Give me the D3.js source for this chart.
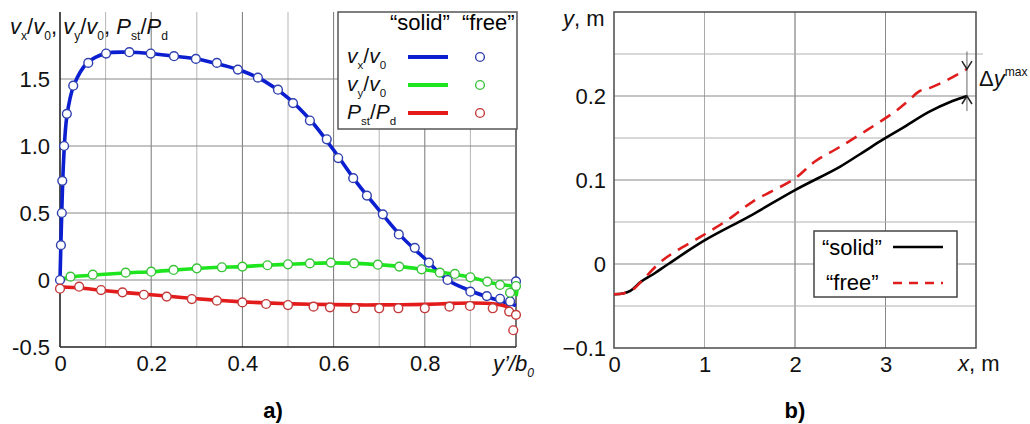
<!DOCTYPE html>
<html>
<head>
<meta charset="utf-8">
<script src="https://cdn.jsdelivr.net/npm/d3@7"></script>
<style>
  body { margin: 0; background: #fff; }
  svg { font-family: "Liberation Sans", Arial, sans-serif; }
</style>
</head>
<body>
<svg width="1030" height="424"></svg>
<script>
// ---------- a) data ----------
// "solid" lines
const vxSolidX = [0, 0.003, 0.008, 0.015, 0.03, 0.06, 0.1, 0.15, 0.2, 0.25, 0.3, 0.35, 0.4, 0.45, 0.5, 0.55, 0.6, 0.65, 0.7, 0.75, 0.8, 0.85, 0.9, 0.95, 1.0];
const vxSolid = [0, 0.4, 0.9, 1.22, 1.45, 1.62, 1.69, 1.70, 1.69, 1.67, 1.65, 1.61, 1.56, 1.48, 1.36, 1.19, 0.97, 0.73, 0.52, 0.32, 0.16, 0.0, -0.08, -0.14, -0.19];
const vySolidX = [0, 0.02, 0.07, 0.14, 0.2, 0.25, 0.3, 0.35, 0.4, 0.45, 0.5, 0.55, 0.6, 0.65, 0.7, 0.75, 0.8, 0.85, 0.9, 0.95, 1.0, 1.0];
const vySolid = [0, 0.02, 0.035, 0.052, 0.062, 0.074, 0.086, 0.095, 0.1, 0.11, 0.117, 0.124, 0.128, 0.124, 0.114, 0.1, 0.076, 0.05, 0.02, -0.025, -0.06, -0.12];
const psSolidX = [0, 0.05, 0.1, 0.15, 0.2, 0.25, 0.3, 0.35, 0.4, 0.45, 0.5, 0.55, 0.6, 0.65, 0.7, 0.75, 0.8, 0.85, 0.9, 0.95, 0.98, 1.0];
const psSolid = [-0.05, -0.062, -0.08, -0.096, -0.11, -0.125, -0.14, -0.152, -0.163, -0.171, -0.177, -0.181, -0.184, -0.186, -0.186, -0.185, -0.182, -0.176, -0.172, -0.178, -0.2, -0.27];

// "free" circles
const vxFreeX = [0, 0.002, 0.004, 0.005, 0.009, 0.015, 0.029, 0.062, 0.101, 0.152, 0.199, 0.25, 0.298, 0.344, 0.39, 0.434, 0.478, 0.511, 0.548, 0.585, 0.61, 0.643, 0.673, 0.708, 0.743, 0.778, 0.809, 0.85, 0.90, 0.936, 0.965, 0.987, 1.0];
const vxFree = [0, 0.26, 0.5, 0.74, 1.0, 1.24, 1.45, 1.62, 1.69, 1.70, 1.69, 1.67, 1.65, 1.62, 1.57, 1.51, 1.42, 1.32, 1.19, 1.05, 0.91, 0.76, 0.63, 0.49, 0.34, 0.24, 0.13, 0.0, -0.087, -0.12, -0.14, -0.16, -0.01];
const vyFreeX = [0.023, 0.072, 0.144, 0.2, 0.249, 0.30, 0.355, 0.40, 0.455, 0.50, 0.548, 0.594, 0.645, 0.697, 0.744, 0.793, 0.833, 0.866, 0.90, 0.937, 0.965, 0.987, 1.0];
const vyFree = [0.025, 0.04, 0.055, 0.062, 0.075, 0.087, 0.095, 0.10, 0.11, 0.117, 0.124, 0.13, 0.124, 0.114, 0.10, 0.08, 0.055, 0.045, 0.02, -0.012, -0.037, -0.095, -0.045];
const psFreeX = [0, 0.042, 0.09, 0.137, 0.184, 0.234, 0.289, 0.344, 0.40, 0.452, 0.50, 0.556, 0.592, 0.647, 0.70, 0.742, 0.80, 0.854, 0.899, 0.949, 0.985, 1.0, 0.994];
const psFree = [-0.065, -0.05, -0.075, -0.092, -0.11, -0.124, -0.142, -0.154, -0.167, -0.179, -0.187, -0.199, -0.204, -0.211, -0.211, -0.211, -0.211, -0.199, -0.194, -0.211, -0.236, -0.26, -0.375];

const aTicksX = [0, 0.2, 0.4, 0.6, 0.8];
const aTicksY = [-0.5, 0, 0.5, 1.0, 1.5];
const aTickLabelsY = ["-0.5", "0", "0.5", "1.0", "1.5"];

// ---------- b) data ----------
const solidX = [0, 0.1, 0.18, 0.3, 0.45, 0.6, 1.0, 1.5, 2.0, 2.5, 2.75, 2.97, 3.19, 3.48, 3.74, 3.9];
const solidY = [-0.036, -0.035, -0.032, -0.021, -0.011, 0.0, 0.028, 0.057, 0.088, 0.116, 0.133, 0.148, 0.162, 0.181, 0.194, 0.2];
const freeX = [0, 0.1, 0.2, 0.3, 0.5, 0.65, 0.95, 1.25, 1.53, 2.0, 2.22, 2.49, 2.79, 3.1, 3.25, 3.38, 3.5, 3.7, 3.9];
const freeY = [-0.036, -0.035, -0.031, -0.021, 0.001, 0.013, 0.032, 0.052, 0.074, 0.102, 0.122, 0.139, 0.159, 0.181, 0.194, 0.206, 0.21, 0.22, 0.232];

const bTicksX = [0, 1, 2, 3];
const bTicksY = [-0.1, 0, 0.1, 0.2];

const svg = d3.select("svg");
const FS = 22;

// 아래첨자/위첨자 텍스트
function addRich(parent, x, y, parts, size) {
  const t = parent.append("text").attr("x", x).attr("y", y)
    .style("font-size", size + "px").attr("fill", "#111");
  let shift = 0;
  parts.forEach(([str, kind]) => {
    kind = kind || "";
    const ts = t.append("tspan").text(str);
    let target = 0;
    if (kind.includes("sub")) target = size * 0.28;
    if (kind.includes("sup")) target = -size * 0.45;
    if (target !== shift) ts.attr("dy", target - shift);
    shift = target;
    if (kind.includes("sub") || kind.includes("sup")) ts.style("font-size", (size * 0.55) + "px");
    if (kind.includes("i")) ts.style("font-style", "italic");
  });
  return t;
}

function styleAxis(g) {
  g.select(".domain").remove();
  g.selectAll("text").style("font-size", FS + "px")
    .style("font-family", "Liberation Sans, Arial, sans-serif").attr("fill", "#111");
}

// ================= a) =================
const xa = d3.scaleLinear().domain([0, 1]).range([60, 516]);
const ya = d3.scaleLinear().domain([-0.5, 2]).range([347, 12]);
const ga = svg.append("g");

// grid
d3.range(1, 11).forEach(i => {
  const v = i / 10;
  ga.append("line")
    .attr("x1", xa(v)).attr("x2", xa(v))
    .attr("y1", ya(2)).attr("y2", ya(-0.5))
    .attr("stroke", i === 10 ? "#444" : (i % 2 === 0 ? "#777" : "#b5b5b5"))
    .attr("stroke-width", i === 10 ? 1.5 : 1);
});
[0, 0.5, 1.0, 1.5].forEach(v => {
  ga.append("line")
    .attr("x1", xa(0)).attr("x2", xa(1))
    .attr("y1", ya(v)).attr("y2", ya(v))
    .attr("stroke", "#888").attr("stroke-width", 1);
});

// axes lines
ga.append("line").attr("x1", xa(0)).attr("x2", xa(0)).attr("y1", ya(2)).attr("y2", ya(-0.5))
  .attr("stroke", "#222").attr("stroke-width", 1.6);
ga.append("line").attr("x1", xa(0)).attr("x2", xa(1)).attr("y1", ya(-0.5)).attr("y2", ya(-0.5))
  .attr("stroke", "#222").attr("stroke-width", 1.6);

ga.append("g").attr("transform", `translate(${xa(0)},0)`)
  .call(d3.axisLeft(ya).tickValues(aTicksY).tickSize(0).tickPadding(10)
    .tickFormat((d, i) => aTickLabelsY[i]))
  .call(styleAxis);
ga.append("g").attr("transform", `translate(0,${ya(-0.5)})`)
  .call(d3.axisBottom(xa).tickValues(aTicksX).tickSize(0).tickPadding(8)
    .tickFormat(d => d === 0 ? "0" : d3.format(".1f")(d)))
  .call(styleAxis);

const curve = d3.curveCatmullRom.alpha(0.5);
const lineA = d3.line().x(d => xa(d[0])).y(d => ya(d[1])).curve(curve);

const seriesA = [
  { xs: vxSolidX, ys: vxSolid, fx: vxFreeX, fy: vxFree, color: "#0b1fd0", circ: "#2f3fae" },
  { xs: vySolidX, ys: vySolid, fx: vyFreeX, fy: vyFree, color: "#1ee61e", circ: "#3ac23a" },
  { xs: psSolidX, ys: psSolid, fx: psFreeX, fy: psFree, color: "#e41b1b", circ: "#c43a3a" }
];

seriesA.forEach(s => {
  ga.append("path")
    .attr("d", lineA(s.xs.map((x, i) => [x, s.ys[i]])))
    .attr("fill", "none").attr("stroke", s.color).attr("stroke-width", 3.6)
    .attr("stroke-linejoin", "round");
});
seriesA.forEach(s => {
  ga.selectAll(null).data(s.fx.map((x, i) => [x, s.fy[i]])).enter()
    .append("circle")
    .attr("cx", d => xa(d[0])).attr("cy", d => ya(d[1])).attr("r", 4.4)
    .attr("fill", "#fff").attr("stroke", s.circ).attr("stroke-width", 1.4);
});

// y-axis title
addRich(ga, 10, 34, [["v", "i"], ["x", "sub"], ["/"], ["v", "i"], ["0", "sub"], [", "],
  ["v", "i"], ["y", "sub"], ["/"], ["v", "i"], ["0", "sub"], [", "],
  ["P", "i"], ["st", "sub"], ["/"], ["P", "i"], ["d", "sub"]], FS);
// x-axis title
addRich(ga, 493, 371, [["y’/b", "i"], ["0", "isub"]], FS);

// legend a
ga.append("rect").attr("x", 338).attr("y", 12).attr("width", 179).attr("height", 117)
  .attr("fill", "#fff").attr("stroke", "#555").attr("stroke-width", 1.5);
ga.append("text").attr("x", 390).attr("y", 30).style("font-size", FS + "px").text("“solid”");
ga.append("text").attr("x", 462).attr("y", 30).style("font-size", FS + "px").text("“free”");
const legRows = [
  { parts: [["v", "i"], ["x", "sub"], ["/"], ["v", "i"], ["0", "sub"]], y: 57 },
  { parts: [["v", "i"], ["y", "sub"], ["/"], ["v", "i"], ["0", "sub"]], y: 85 },
  { parts: [["P", "i"], ["st", "sub"], ["/"], ["P", "i"], ["d", "sub"]], y: 113 }
];
legRows.forEach((r, i) => {
  addRich(ga, 347, r.y + 6, r.parts, 21);
  ga.append("line").attr("x1", 408).attr("x2", 448).attr("y1", r.y).attr("y2", r.y)
    .attr("stroke", seriesA[i].color).attr("stroke-width", 4);
  ga.append("circle").attr("cx", 480).attr("cy", r.y).attr("r", 4.4)
    .attr("fill", "#fff").attr("stroke", seriesA[i].circ).attr("stroke-width", 1.4);
});

ga.append("text").attr("x", 273).attr("y", 418).attr("text-anchor", "middle")
  .style("font-size", FS + "px").style("font-weight", "bold").text("a)");

// ================= b) =================
const xb = d3.scaleLinear().domain([0, 4]).range([614, 976]);
const yb = d3.scaleLinear().domain([-0.1, 0.3]).range([348, 12]);
const gb = svg.append("g");

[1, 2, 3].forEach(v => {
  gb.append("line").attr("x1", xb(v)).attr("x2", xb(v)).attr("y1", yb(0.3)).attr("y2", yb(-0.1))
    .attr("stroke", v === 2 ? "#666" : (v === 3 ? "#888" : "#aaa")).attr("stroke-width", 1);
});
d3.range(-1, 6).forEach(i => {
  const v = i * 0.05;
  gb.append("line").attr("x1", xb(0)).attr("x2", i === 5 ? xb(4) + 7 : xb(4))
    .attr("y1", yb(v)).attr("y2", yb(v))
    .attr("stroke", i % 2 === 0 ? "#8a8a8a" : "#b0b0b0").attr("stroke-width", 1);
});
gb.append("rect").attr("x", xb(0)).attr("y", yb(0.3))
  .attr("width", xb(4) - xb(0)).attr("height", yb(-0.1) - yb(0.3))
  .attr("fill", "none").attr("stroke", "#555").attr("stroke-width", 1.6);

gb.append("g").attr("transform", `translate(${xb(0)},0)`)
  .call(d3.axisLeft(yb).tickValues(bTicksY).tickSize(0).tickPadding(8)
    .tickFormat(d => d === 0 ? "0" : d3.format(".1f")(d)))
  .call(styleAxis);
gb.append("g").attr("transform", `translate(0,${yb(-0.1)})`)
  .call(d3.axisBottom(xb).tickValues(bTicksX).tickSize(0).tickPadding(8).tickFormat(d3.format("d")))
  .call(styleAxis);

const lineB = d3.line().x(d => xb(d[0])).y(d => yb(d[1])).curve(curve);
gb.append("path").attr("d", lineB(solidX.map((x, i) => [x, solidY[i]])))
  .attr("fill", "none").attr("stroke", "#000").attr("stroke-width", 2.6);
gb.append("path").attr("d", lineB(freeX.map((x, i) => [x, freeY[i]])))
  .attr("fill", "none").attr("stroke", "#e01d1d").attr("stroke-width", 2.6)
  .attr("stroke-dasharray", "12,8");

// Δy max 표시
const dX = xb(solidX[solidX.length - 1]);
const yTop = yb(freeY[freeY.length - 1]);
const yBot = yb(solidY[solidY.length - 1]);
gb.append("line").attr("x1", dX).attr("x2", dX).attr("y1", yb(0.253)).attr("y2", yb(0.182))
  .attr("stroke", "#666").attr("stroke-width", 1);
gb.append("path").attr("d", `M${dX - 5},${yTop - 8}L${dX},${yTop}L${dX + 5},${yTop - 8}`)
  .attr("fill", "none").attr("stroke", "#222").attr("stroke-width", 1.5);
gb.append("path").attr("d", `M${dX - 5},${yBot + 8}L${dX},${yBot}L${dX + 5},${yBot + 8}`)
  .attr("fill", "none").attr("stroke", "#222").attr("stroke-width", 1.5);
addRich(gb, 979, 86, [["Δ"], ["y", "i"], ["max", "sup"]], FS);

// axis titles b
addRich(gb, 563, 26, [["y", "i"], [", m"]], FS);
addRich(gb, 958, 371, [["x", "i"], [", m"]], FS);

// legend b
gb.append("rect").attr("x", 814).attr("y", 231).attr("width", 143).attr("height", 66)
  .attr("fill", "#fff").attr("stroke", "#444").attr("stroke-width", 1.5);
gb.append("text").attr("x", 822).attr("y", 255).style("font-size", FS + "px").text("“solid”");
gb.append("line").attr("x1", 893).attr("x2", 943).attr("y1", 247).attr("y2", 247)
  .attr("stroke", "#000").attr("stroke-width", 2.6);
gb.append("text").attr("x", 826).attr("y", 290).style("font-size", FS + "px").text("“free”");
gb.append("line").attr("x1", 893).attr("x2", 943).attr("y1", 283).attr("y2", 283)
  .attr("stroke", "#e01d1d").attr("stroke-width", 2.6).attr("stroke-dasharray", "9,7");

gb.append("text").attr("x", 795).attr("y", 418).attr("text-anchor", "middle")
  .style("font-size", FS + "px").style("font-weight", "bold").text("b)");
</script>
</body>
</html>
